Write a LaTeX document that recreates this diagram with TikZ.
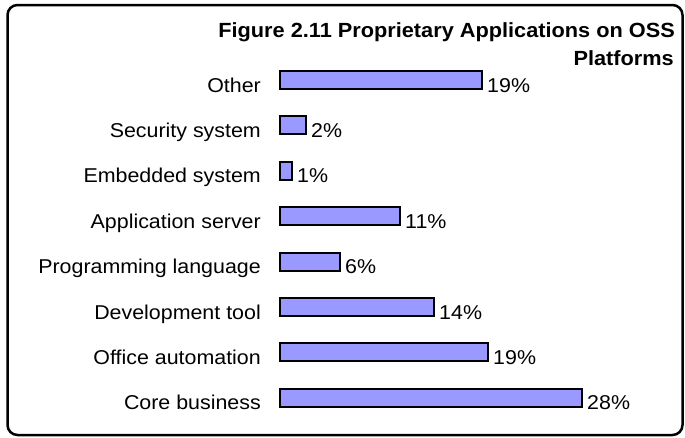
\documentclass[tikz,border=0pt]{standalone}
\usepackage{fontspec}
\setmainfont[FakeStretch=1.07]{Liberation Sans}
\newfontfamily\titlefont[FakeStretch=1.06]{Liberation Sans}
\definecolor{barfill}{HTML}{9999FF}
\tikzset{
  barbox/.style={draw=black, line width=2pt, fill=barfill, minimum height=18pt, inner sep=0pt, outer sep=0pt, anchor=west},
  catlabel/.style={anchor=base east, inner sep=0pt, font=\fontsize{20}{24}\selectfont},
  pctlabel/.style={anchor=base west, inner sep=0pt, font=\fontsize{20}{24}\selectfont},
  titletext/.style={anchor=base east, inner sep=0pt, font=\titlefont\bfseries\fontsize{20.5}{28}\selectfont},
  frame/.style={draw=black, line width=2.5pt, rounded corners=10pt}
}
\begin{document}
\begin{tikzpicture}[x=1pt, y=-1pt]
\useasboundingbox (0,0) rectangle (685,437);
\draw[frame] (7.5,5) rectangle (682.5,435);
\node[titletext] (t1) at (675,37) {Figure 2.11 Proprietary Applications on OSS};
\node[titletext] (t2) at (674,65) {Platforms};
\foreach \name/\lab/\w/\pct [count=\i from 0] in {
  b1/Other/202/19\%,
  b2/Security system/26/2\%,
  b3/Embedded system/12/1\%,
  b4/Application server/120/11\%,
  b5/Programming language/60/6\%,
  b6/Development tool/154/14\%,
  b7/Office automation/208/19\%,
  b8/Core business/302/28\%}{
  \pgfmathsetmacro{\cy}{80+45.4*\i}
  \node[barbox, minimum width=\w pt] (\name) at (280,\cy) {};
  \node[catlabel] (\name l) at (261,\cy+12) {\lab};
  \node[pctlabel] (\name p) at ([xshift=5pt]\name.east |- 0,\cy+12) {\pct};
}
\end{tikzpicture}
\end{document}
